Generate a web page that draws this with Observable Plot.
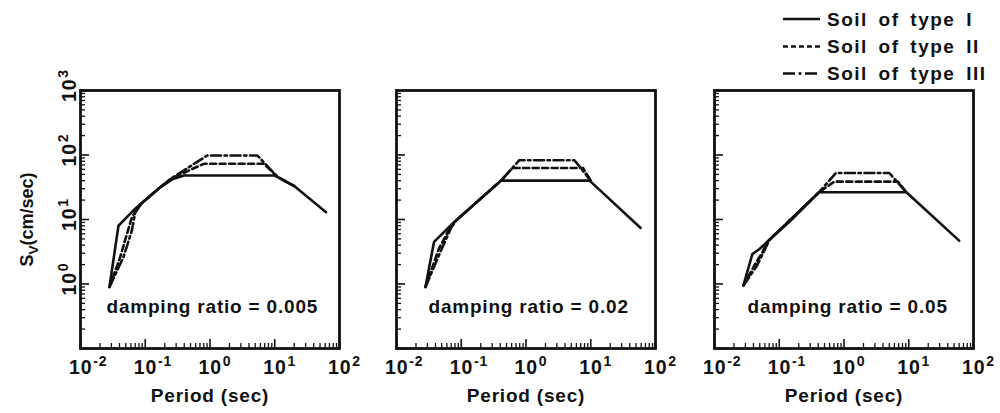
<!DOCTYPE html>
<html>
<head>
<meta charset="utf-8">
<script src="https://cdn.jsdelivr.net/npm/d3@7"></script>
<script src="https://cdn.jsdelivr.net/npm/@observablehq/plot@0.6"></script>
<style>
  body { margin: 0; background: #fff; }
  #fig { position: relative; width: 1000px; height: 413px; overflow: hidden; background: #fff;
         font-family: "Liberation Sans", Arial, sans-serif; font-weight: bold; color: #111; }
  .panel { position: absolute; top: 0; }
  #legend { position: absolute; left: 770px; top: 0; }
  #legend text { letter-spacing: 1.5px; word-spacing: 4px; }
</style>
</head>
<body>
<div id="fig"></div>
<script>
// ---------- data ----------
const soilTypes = ["Soil of type I", "Soil of type II", "Soil of type III"];
const dampingRatios = ["0.005", "0.02", "0.05"];
const xDecades = [0.01, 0.1, 1, 10, 100];
const yDecades = [0.1, 1, 10, 100, 1000];
const yLabelDecades = [1, 10, 100, 1000];
const minorSteps = [2, 3, 4, 5, 6, 7, 8, 9];
const xLabel = "Period (sec)";
const yLabel = "SV (cm/sec)";

// damping ratio = 0.005
const T_005_I    = [0.028, 0.0386, 0.07, 0.17, 0.26, 0.4, 10, 20, 62];
const Sv_005_I   = [0.9,   8,      14.7, 31.5, 42,   48,  48, 33, 13];
const T_005_II   = [0.028, 0.041, 0.052, 0.062, 0.08, 0.17, 0.25, 0.8, 6.8, 11, 20];
const Sv_005_II  = [0.9,   2.6,   5.9,   10.7,  16.3, 31.5, 43,   73,  73,  46, 33];
const T_005_III  = [0.028, 0.046, 0.062, 0.07, 0.09, 0.17, 0.25, 0.9, 5.4, 11, 20];
const Sv_005_III = [0.9,   2.6,   6.7,   12.8, 18.3, 31.5, 43,   98,  98,  46, 33];

// damping ratio = 0.02
const T_02_I    = [0.028, 0.038, 0.073, 0.41, 9.6, 59];
const Sv_02_I   = [0.9,   4.5,   8.6,   40,   40,  7.4];
const T_02_II   = [0.028, 0.045, 0.065, 0.08, 0.41, 0.62, 7.6, 10];
const Sv_02_II  = [0.9,   3.5,   7.0,   9.3,  40,   63,   63,  40];
const T_02_III  = [0.028, 0.048, 0.07, 0.085, 0.42, 0.79, 5.6, 10];
const Sv_02_III = [0.9,   3.2,   7.5,  9.9,   41,   83,   83,  40];

// damping ratio = 0.05
const T_05_I    = [0.028, 0.0384, 0.049, 0.15, 0.41, 9.2, 60];
const Sv_05_I   = [0.95,  2.9,    3.46,  9.6,  26.4, 26.4, 4.7];
const T_05_II   = [0.028, 0.042, 0.055, 0.065, 0.41, 0.71, 6.8, 9.2];
const Sv_05_II  = [0.95,  2.0,   3.1,   4.5,   26.4, 38.6, 38.6, 26.4];
const T_05_III  = [0.028, 0.045, 0.058, 0.07, 0.41, 0.75, 5.0, 9.2];
const Sv_05_III = [0.95,  1.9,   3.2,   4.8,  26.4, 52.6, 52.6, 26.4];

const panels = [
  [[T_005_I, Sv_005_I], [T_005_II, Sv_005_II], [T_005_III, Sv_005_III]],
  [[T_02_I, Sv_02_I], [T_02_II, Sv_02_II], [T_02_III, Sv_02_III]],
  [[T_05_I, Sv_05_I], [T_05_II, Sv_05_II], [T_05_III, Sv_05_III]]
];

// ---------- layout / style ----------
const ink = "#111";
const font = "'Liberation Sans', Arial, sans-serif";
const panelLeft = [0, 316, 634];
const noteDx = [26, 32, 33];
const dashes = [null, "6,3.5", "10,3.5,2.5,3.5"];
const W = 345, H = 413, mL = 80, mR = 6, mT = 90, mB = 65;
const pw = W - mL - mR, ph = H - mT - mB;

const minorOf = decades => decades.slice(0, -1).flatMap(d => minorSteps.map(m => d * m));
const expOf = d => String(Math.round(Math.log10(d)));
const SVGNS = "http://www.w3.org/2000/svg";

function postProcess(svg) {
  svg.querySelectorAll("text").forEach(t => {
    const s = t.textContent;
    if (/^10-?\d$/.test(s)) {
      const ex = s.slice(2);
      t.textContent = "10";
      t.setAttribute("text-anchor", "start");
      t.setAttribute("dx", "-11.5");
      const ts = document.createElementNS(SVGNS, "tspan");
      ts.setAttribute("dy", "-7.5");
      ts.setAttribute("dx", "1");
      ts.setAttribute("font-size", "14");
      ts.textContent = ex;
      t.append(ts);
    } else if (s === yLabel) {
      t.textContent = "S";
      t.setAttribute("letter-spacing", "0");
      t.style.letterSpacing = "0px";
      const sub = document.createElementNS(SVGNS, "tspan");
      sub.setAttribute("dy", "5"); sub.setAttribute("font-size", "13.5"); sub.textContent = "V";
      const rest = document.createElementNS(SVGNS, "tspan");
      rest.setAttribute("dy", "-5"); rest.textContent = "(cm/sec)";
      t.append(sub, rest);
    }
  });
}

function drawPanel(i) {
  const rows = [];
  panels[i].forEach(([T, S], k) => T.forEach((t, j) => rows.push({T: t, Sv: S[j], soil: soilTypes[k]})));
  const textBase = {fill: ink, fontWeight: "bold", fontFamily: font, lineAnchor: "bottom"};
  const marks = [
    Plot.ruleX(minorOf(xDecades), {x: d => d, insetTop: ph - 5, stroke: ink, strokeWidth: 1.3}),
    Plot.ruleX(xDecades, {x: d => d, insetTop: ph - 9, stroke: ink, strokeWidth: 1.6}),
    Plot.ruleY(minorOf(yDecades), {y: d => d, insetRight: pw - 5, stroke: ink, strokeWidth: 1.3}),
    Plot.ruleY(yDecades, {y: d => d, insetRight: pw - 9, stroke: ink, strokeWidth: 1.6}),
    ...soilTypes.map((s, k) => Plot.line(rows, {
      filter: d => d.soil === s, x: "T", y: "Sv", stroke: ink, strokeWidth: 2.6,
      strokeDasharray: dashes[k], strokeLinejoin: "round"
    })),
    Plot.frame({stroke: ink, strokeWidth: 2.8}),
    Plot.text(xDecades, {...textBase, x: d => d, frameAnchor: "bottom", dy: 25,
      text: d => "10" + expOf(d), fontSize: 19.5}),
    Plot.text([xLabel], {...textBase, frameAnchor: "bottom", dy: 53, text: d => d, fontSize: 19}),
    Plot.text([`damping ratio = ${dampingRatios[i]}`], {...textBase, frameAnchor: "bottom-left",
      dx: noteDx[i], dy: -36, textAnchor: "start", text: d => d, fontSize: 19})
  ];
  if (i === 0) {
    marks.push(
      Plot.text(yLabelDecades, {...textBase, y: d => d, frameAnchor: "left", dx: -5, rotate: -90,
        text: d => "10" + expOf(d), fontSize: 19.5}),
      Plot.text([yLabel], {...textBase, frameAnchor: "left", dx: -48, rotate: -90,
        textAnchor: "middle", text: d => d, fontSize: 18})
    );
  }
  const svg = Plot.plot({
    width: W, height: H, marginLeft: mL, marginRight: mR, marginTop: mT, marginBottom: mB,
    x: {type: "log", domain: [0.01, 100], axis: null},
    y: {type: "log", domain: [0.1, 1000], axis: null},
    style: {background: "transparent", fontFamily: font, color: ink, letterSpacing: "0.8px", overflow: "visible"},
    marks
  });
  postProcess(svg);
  const holder = document.createElement("div");
  holder.className = "panel";
  holder.style.left = panelLeft[i] + "px";
  holder.append(svg);
  document.getElementById("fig").append(holder);
}

[0, 1, 2].forEach(drawPanel);

// ---------- legend ----------
const legendRows = [19, 46.5, 73.5];
const lg = d3.select("#fig").append("svg").attr("id", "legend").attr("width", 230).attr("height", 95);
soilTypes.forEach((s, k) => {
  lg.append("line").attr("x1", 13).attr("x2", 50).attr("y1", legendRows[k]).attr("y2", legendRows[k])
    .attr("stroke", ink).attr("stroke-width", 2.4)
    .attr("stroke-dasharray", [null, "5,3", "12,3.5,3,3.5,12"][k]);
  lg.append("text").attr("x", 57).attr("y", legendRows[k] + 6.5)
    .attr("font-family", font).attr("font-weight", "bold").attr("font-size", 19)
    .attr("fill", ink).text(s);
});
</script>
</body>
</html>
